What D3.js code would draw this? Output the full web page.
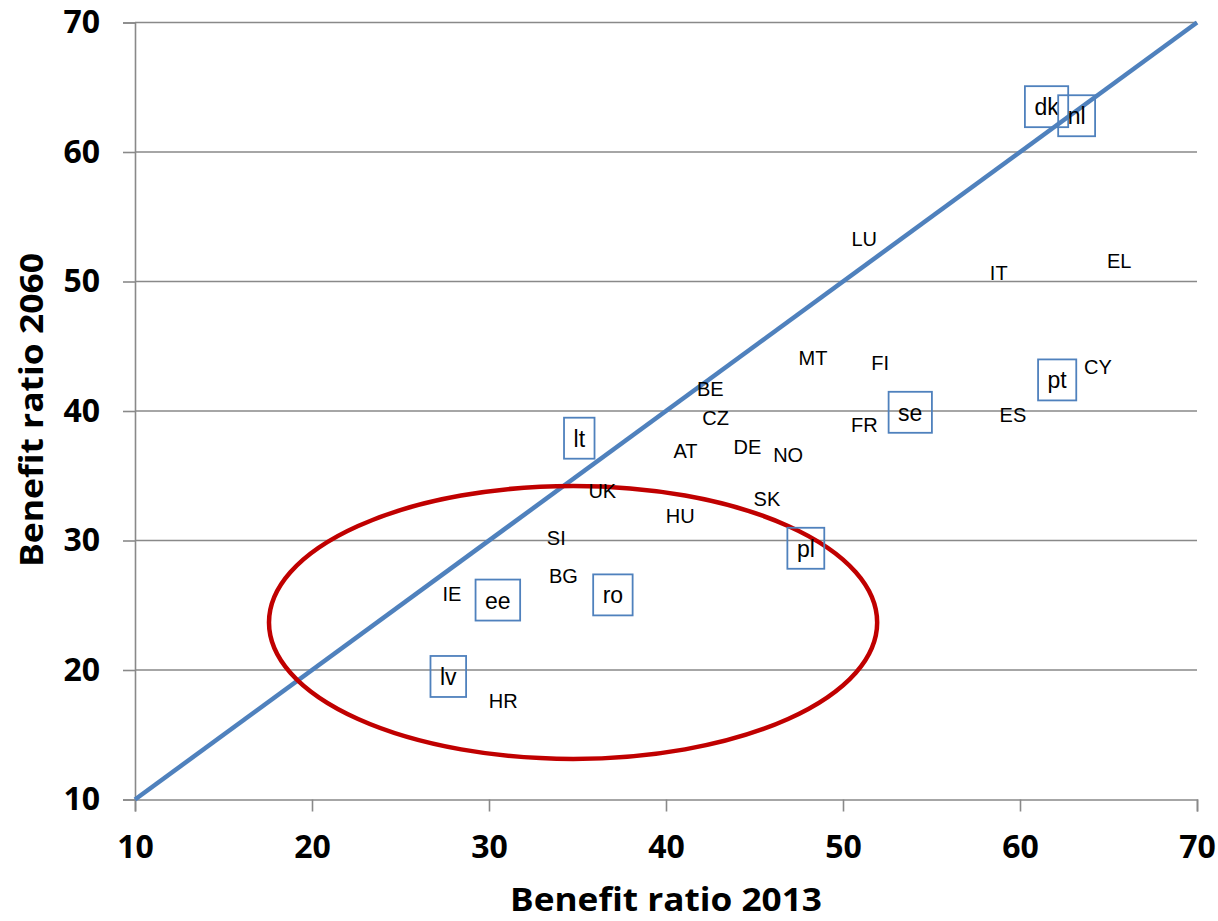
<!DOCTYPE html>
<html>
<head>
<meta charset="utf-8">
<script src="https://cdn.jsdelivr.net/npm/d3@7"></script>
<style>
  html, body { margin: 0; padding: 0; background: #ffffff; }
  svg { display: block; }
</style>
</head>
<body>
<svg id="chart" width="1218" height="921"></svg>
<script>
// ---- Data ----
const countries = ["dk","nl","LU","IT","EL","MT","FI","CY","pt","se","ES","FR","BE","CZ","lt","AT","DE","NO","UK","SK","HU","SI","pl","BG","IE","ee","ro","lv","HR"];
const ratio2013 = [61.5,63.2,51.2,58.8,65.6,48.3,52.1,64.4,62.1,53.8,59.6,51.2,42.5,42.8,35.1,41.1,44.6,46.9,36.4,45.7,40.8,33.8,47.9,34.2,27.9,30.5,37.0,27.7,30.8];
const ratio2060 = [63.5,62.8,53.3,50.7,51.6,44.1,43.7,43.4,42.4,39.9,39.7,38.9,41.7,39.5,37.9,36.9,37.2,36.6,33.8,33.2,31.9,30.2,29.4,27.3,25.9,25.4,25.8,19.5,17.6];
const boxedCountries = ["dk","nl","pt","se","lt","pl","ee","ro","lv"];
const xTicks = [10,20,30,40,50,60,70];
const yTicks = [10,20,30,40,50,60,70];
const diagonal = [[10,10],[70,70]];
const ellipseCenter = [34.75, 23.67];
const ellipseRadii = [17.18, 10.54];
const xTitle = "Benefit ratio 2013";
const yTitle = "Benefit ratio 2060";

// ---- Layout ----
const svg = d3.select("#chart");
const plotLeft = 135, plotRight = 1197, plotTop = 22.5, plotBottom = 799.5;
const x = d3.scaleLinear().domain([10,70]).range([plotLeft,plotRight]);
const y = d3.scaleLinear().domain([10,70]).range([plotBottom,plotTop]);

const axisColor = "#898989";
const tickFont = "'Open Sans', 'Liberation Sans', Arial, sans-serif";

// gridlines
svg.append("g").selectAll("line")
  .data(yTicks.filter(t => t > 10))
  .join("line")
  .attr("x1", plotLeft).attr("x2", plotRight)
  .attr("y1", d => y(d)).attr("y2", d => y(d))
  .attr("stroke", axisColor).attr("stroke-width", 1.4);

// axes
const yAxis = svg.append("g").attr("transform", `translate(${plotLeft},0)`)
  .call(d3.axisLeft(y).tickValues(yTicks).tickSize(12).tickPadding(23).tickFormat(d3.format("d")));
const xAxis = svg.append("g").attr("transform", `translate(0,${plotBottom})`)
  .call(d3.axisBottom(x).tickValues(xTicks).tickSize(12).tickPadding(24).tickFormat(d3.format("d")));
[yAxis, xAxis].forEach(a => {
  a.select(".domain").attr("stroke", axisColor).attr("stroke-width", 1.6);
  a.selectAll(".tick line").attr("stroke", axisColor).attr("stroke-width", 1.6);
  a.selectAll(".tick text")
    .attr("fill", "#000")
    .style("font-family", tickFont)
    .style("font-weight", "bold")
    .style("font-size", "32px");
});

// diagonal line
svg.append("path")
  .datum(diagonal)
  .attr("d", d3.line().x(d => x(d[0])).y(d => y(d[1])))
  .attr("fill", "none")
  .attr("stroke", "#4f81bd")
  .attr("stroke-width", 4.5);

// ellipse annotation
svg.append("ellipse")
  .attr("cx", x(ellipseCenter[0]))
  .attr("cy", y(ellipseCenter[1]))
  .attr("rx", x(ellipseCenter[0] + ellipseRadii[0]) - x(ellipseCenter[0]))
  .attr("ry", y(ellipseCenter[1]) - y(ellipseCenter[1] + ellipseRadii[1]))
  .attr("fill", "none")
  .attr("stroke", "#c00000")
  .attr("stroke-width", 4.5);

// labels
const data = countries.map((c, i) => ({ name: c, x: ratio2013[i], y: ratio2060[i], boxed: boxedCountries.includes(c) }));
const labelFont = "'Liberation Sans', Arial, sans-serif";
const lg = svg.append("g");
data.forEach(d => {
  const g = lg.append("g").attr("transform", `translate(${x(d.x)},${y(d.y)})`);
  const fs = d.boxed ? 23 : 20;
  const t = g.append("text")
    .attr("text-anchor", "middle")
    .attr("y", d.boxed ? 8.5 : 7.2)
    .style("font-family", labelFont)
    .style("font-size", fs + "px")
    .attr("fill", "#000")
    .text(d.name);
  if (d.boxed) {
    const w = t.node().getComputedTextLength();
    g.insert("rect", "text")
      .attr("x", -w / 2 - 9.5)
      .attr("y", -20.5)
      .attr("width", w + 19)
      .attr("height", 41)
      .attr("fill", "none")
      .attr("stroke", "#4f81bd")
      .attr("stroke-width", 1.8);
  }
});

// axis titles
svg.append("text")
  .attr("x", 666)
  .attr("y", 911)
  .attr("text-anchor", "middle")
  .attr("textLength", 312)
  .attr("lengthAdjust", "spacingAndGlyphs")
  .style("font-family", tickFont)
  .style("font-weight", "bold")
  .style("font-size", "32px")
  .attr("fill", "#000")
  .text(xTitle);
svg.append("text")
  .attr("transform", "translate(43,410) rotate(-90)")
  .attr("text-anchor", "middle")
  .attr("textLength", 314)
  .attr("lengthAdjust", "spacingAndGlyphs")
  .style("font-family", tickFont)
  .style("font-weight", "bold")
  .style("font-size", "33px")
  .attr("fill", "#000")
  .text(yTitle);
</script>
</body>
</html>
